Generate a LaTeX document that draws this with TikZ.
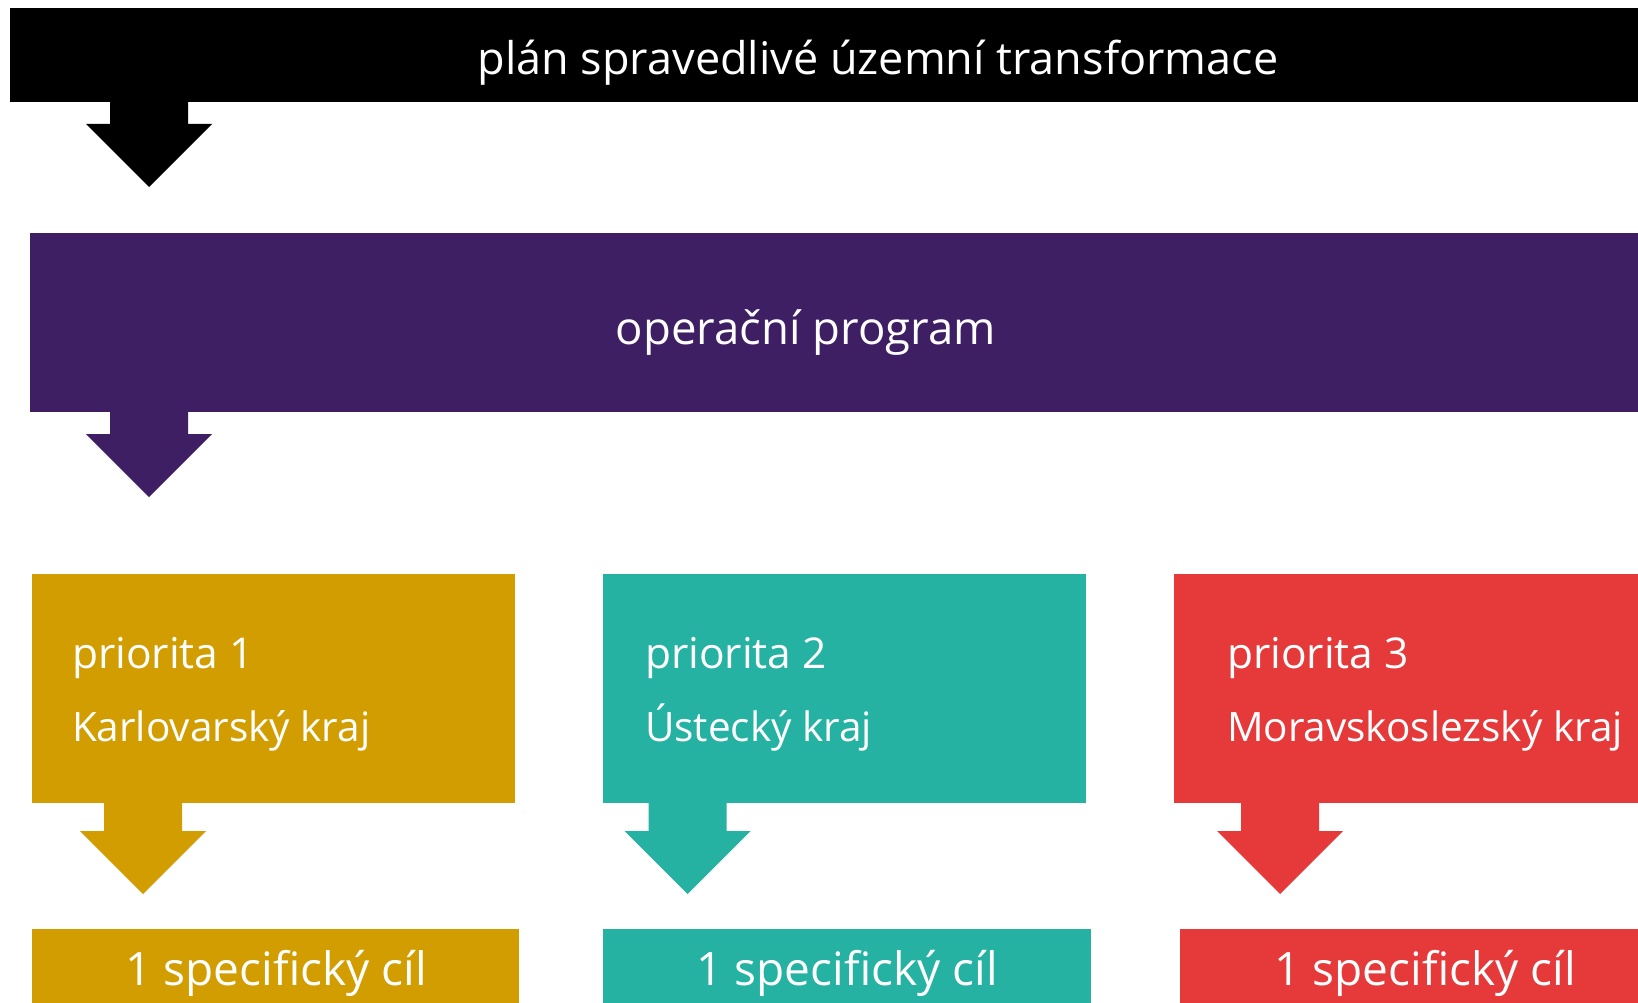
\documentclass[tikz,border=0pt]{standalone}
\usepackage{fontspec}
\setmainfont{Open Sans}
\usetikzlibrary{positioning}

\definecolor{planblack}{HTML}{000000}
\definecolor{opviolet}{HTML}{3F1F63}
\definecolor{karlgold}{HTML}{D29D00}
\definecolor{ustteal}{HTML}{25B2A2}
\definecolor{msred}{HTML}{E6393A}

\tikzset{
  bar/.style={fill=#1, draw=none, inner sep=0pt, outer sep=0pt, anchor=north west},
  lbl/.style={text=white, inner sep=0pt, outer sep=0pt},
}

% block arrow below a box: colour, node, x offset of stem, gap to head
\newcommand{\blockarr}[4]{%
  \fill[#1] ([xshift=#3]#2.south west) -- ++(0,#4) -- ++(-24,0) -- ++(63,63)
    -- ++(63,-63) -- ++(-24,0) -- ++(0,-#4) -- cycle;}

\begin{document}
\begin{tikzpicture}[x=1pt,y=-1pt]
\useasboundingbox (0,0) rectangle (1638,1003);
\clip (0,0) rectangle (1638,1003);
\fill[white] (0,0) rectangle (1638,1003);

% top bars
\node[bar=planblack, minimum width=1740, minimum height=94] (plan) at (10,8) {};
\node[bar=opviolet, minimum width=1620, minimum height=179] (op) at (30,233) {};

% priorities
\node[bar=karlgold, minimum width=483, minimum height=229] (p1) at (32,574) {};
\node[bar=ustteal, minimum width=483, minimum height=229] (p2) at (603,574) {};
\node[bar=msred, minimum width=483, minimum height=229] (p3) at (1174,574) {};

% specific goals
\node[bar=karlgold, minimum width=487, minimum height=80] (c1) at (32,929) {};
\node[bar=ustteal, minimum width=488, minimum height=80] (c2) at (603,929) {};
\node[bar=msred, minimum width=488, minimum height=80] (c3) at (1180,929) {};

\blockarr{planblack}{plan}{100}{22}
\blockarr{opviolet}{op}{80}{22}
\blockarr{karlgold}{p1}{72}{28}
\blockarr{ustteal}{p2}{45.5}{28}
\blockarr{msred}{p3}{67}{28}

% texts
\node[lbl, anchor=base, font=\fontsize{45}{54}\selectfont] (tplan) at (878,75) {plán spravedlivé územní transformace};
\node[lbl, anchor=base, font=\fontsize{45.5}{54}\selectfont] (top) at (806,344) {operační program};

\foreach \n/\x/\reg in {1/72/Karlovarský kraj, 2/645/Ústecký kraj, 3/1227/Moravskoslezský kraj}{
  \node[lbl, anchor=base west, font=\fontsize{42.5}{50}\selectfont] (tp\n) at (\x,668) {priorita \n};
  \node[lbl, anchor=base west, font=\fontsize{40.5}{50}\selectfont] (tr\n) at (\x,741) {\reg};
}
\node[lbl, anchor=base, font=\fontsize{46}{55}\selectfont] (tc1) at (276,985) {1 specifický cíl};
\node[lbl, anchor=base, font=\fontsize{46}{55}\selectfont] (tc2) at (847,985) {1 specifický cíl};
\node[lbl, anchor=base, font=\fontsize{46}{55}\selectfont] (tc3) at (1425,985) {1 specifický cíl};
\end{tikzpicture}
\end{document}
